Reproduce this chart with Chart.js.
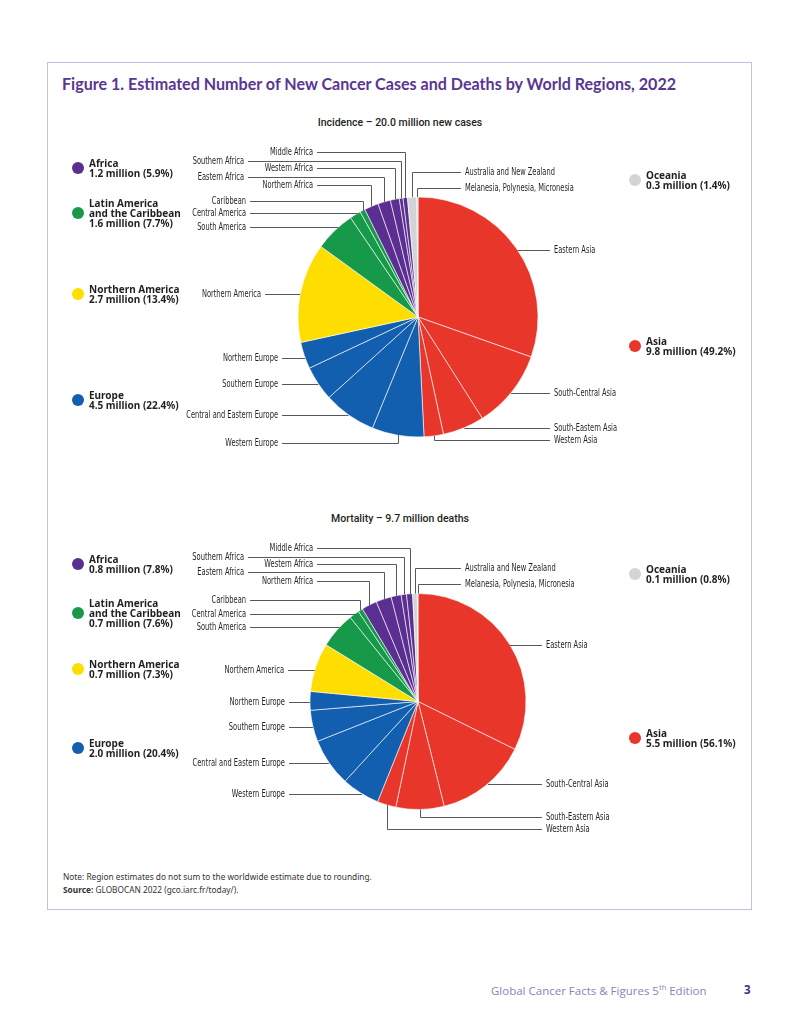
<!DOCTYPE html>
<html>
<head>
<meta charset="utf-8">
<title>Figure 1</title>
<script src="https://cdn.jsdelivr.net/npm/chart.js@4.4.1/dist/chart.umd.min.js"></script>
<style>
  body { margin: 0; background: #fff; width: 800px; height: 1035px; position: relative; font-family: "Noto Sans", sans-serif; color: #231f20; }
  .frame { position: absolute; left: 47px; top: 62px; width: 705px; height: 848px; border: 1.5px solid #c4bfdd; box-sizing: border-box; }
  .title { position: absolute; left: 62px; top: 74px; font-family: Lato, "Open Sans", sans-serif; font-weight: 700; font-size: 16.1px; color: #5a3592; white-space: nowrap; }
  .sub { position: absolute; left: 0; width: 800px; text-align: center; font-family: Roboto, sans-serif; font-weight: 500; font-size: 10.5px; line-height: 12px; }
  .pie { position: absolute; left: 48px; }
  .leg { position: absolute; font-weight: 700; font-size: 10px; line-height: 10.4px; white-space: pre; }
  .dot { position: absolute; width: 12px; height: 12px; border-radius: 50%; }
  .note { position: absolute; left: 63px; top: 870px; font-size: 8.3px; line-height: 13px; color: #333; }
  .foot { position: absolute; top: 982px; font-family: "Open Sans", sans-serif; font-size: 11.5px; color: #8b82b9; white-space: nowrap; }
</style>
</head>
<body>
<div class="frame"></div>
<div class="title">Figure 1. Estimated Number of New Cancer Cases and Deaths by World Regions, 2022</div>
<div class="sub" style="top:117px">Incidence – 20.0 million new cases</div>
<div class="sub" style="top:513px">Mortality – 9.7 million deaths</div>
<canvas id="incidence" class="pie" style="top:100px" width="702" height="380"></canvas>
<canvas id="mortality" class="pie" style="top:490px" width="702" height="380"></canvas>
<div id="legends"></div>
<div class="note">Note: Region estimates do not sum to the worldwide estimate due to rounding.<br><b>Source:</b> GLOBOCAN 2022 (gco.iarc.fr/today/).</div>
<div class="foot" style="left:491px">Global Cancer Facts &amp; Figures 5<sup style="font-size:7.5px">th</sup> Edition</div>
<div class="foot" style="left:744px;font-weight:700;color:#4b2c87">3</div>

<script>
// sub-regions, clockwise from 12 o'clock
const regions = ["Eastern Asia", "South-Central Asia", "South-Eastern Asia", "Western Asia",
  "Western Europe", "Central and Eastern Europe", "Southern Europe", "Northern Europe",
  "Northern America",
  "South America", "Central America", "Caribbean",
  "Northern Africa", "Eastern Africa", "Western Africa", "Southern Africa", "Middle Africa",
  "Australia and New Zealand", "Melanesia, Polynesia, Micronesia"];
const regionGroup = ["Asia", "Asia", "Asia", "Asia",
  "Europe", "Europe", "Europe", "Europe",
  "Northern America",
  "Latin America", "Latin America", "Latin America",
  "Africa", "Africa", "Africa", "Africa", "Africa",
  "Oceania", "Oceania"];

// share of world total (%)
const incidencePct = [30.4, 10.6, 5.6, 2.6, 7.0, 7.1, 4.7, 3.6, 13.4, 5.5, 1.5, 0.7, 1.9, 1.7, 1.2, 0.5, 0.6, 1.25, 0.15];
const mortalityPct = [32.3, 13.8, 7.2, 2.8, 5.7, 7.2, 4.7, 2.8, 7.3, 5.4, 1.5, 0.7, 2.3, 2.3, 1.5, 0.8, 0.9, 0.7, 0.1];

// world regions for the legends
const groups = ["Africa", "Latin America", "Northern America", "Europe", "Oceania", "Asia"];
const groupNames = ["Africa", "Latin America\nand the Caribbean", "Northern America", "Europe", "Oceania", "Asia"];
const incidenceMillions = ["1.2", "1.6", "2.7", "4.5", "0.3", "9.8"];
const incidenceGroupPct = ["5.9", "7.7", "13.4", "22.4", "1.4", "49.2"];
const mortalityMillions = ["0.8", "0.7", "0.7", "2.0", "0.1", "5.5"];
const mortalityGroupPct = ["7.8", "7.6", "7.3", "20.4", "0.8", "56.1"];

const groupColors = {
  "Asia": "#e8362a",
  "Europe": "#115fae",
  "Northern America": "#fedd00",
  "Latin America": "#17994a",
  "Africa": "#5b2e91",
  "Oceania": "#d3d4d6"
};

// label placement, px from pie centre [x, y] (negative x = text on the left)
const incidenceLabelPos = [[136, -67], [136, 75.7], [136, 110.7], [136, 123],
  [-140, 126], [-140, 97.7], [-140, 66.7], [-140, 40.7],
  [-157, -23],
  [-172, -90], [-172, -103.7], [-172, -116.3],
  [-105, -132.3], [-174, -140.3], [-105, -148.7], [-174, -156.3], [-105, -164.7],
  [47, -144.7], [47, -129]];
const mortalityLabelPos = [[128, -56.7], [128, 82.3], [128, 115], [128, 127.6],
  [-133, 92.3], [-133, 61], [-133, 25.3], [-133, 0.6],
  [-134, -31.7],
  [-172, -74.4], [-172, -88], [-172, -101.4],
  [-105, -121], [-174, -129.4], [-105, -137.4], [-174, -145], [-105, -153.4],
  [47, -133.4], [47, -117.7]];

// legend text block: [left, top]
const incidenceLegendPos = [[89, 158], [89, 197.5], [89, 283.5], [89, 390], [646, 170], [646, 335.5]];
const mortalityLegendPos = [[89, 554], [89, 597.5], [89, 659], [89, 737.5], [646, 564], [646, 728]];

const leaderLabels = {
  id: "leaderLabels",
  afterDatasetsDraw(chart, args, opts) {
    const ctx = chart.ctx;
    const arcs = chart.getDatasetMeta(0).data;
    const names = chart.data.labels;
    ctx.save();
    ctx.font = '10px "Liberation Sans Narrow", "DejaVu Sans Condensed", Roboto, sans-serif';
    const squeeze = opts.fitWidth / ctx.measureText("Central and Eastern Europe").width;
    ctx.strokeStyle = "#58595b";
    ctx.lineWidth = 1;
    ctx.fillStyle = "#231f20";
    ctx.textBaseline = "middle";
    arcs.forEach((arc, i) => {
      const [dx, dy] = opts.pos[i];
      const cx = arc.x, cy = arc.y, r = arc.outerRadius;
      const left = dx < 0;
      const ly = Math.round(cy + dy) + 0.5;
      const tx = cx + dx;
      let px, py, elbow = true;
      if (Math.abs(dy) < r) {
        const off = Math.sqrt(r * r - dy * dy);
        let a = Math.atan2(dy, left ? -off : off);
        if (a < -Math.PI / 2) a += 2 * Math.PI;
        if (a >= arc.startAngle && a <= arc.endAngle) {
          px = cx + (left ? -off : off);
          py = ly;
          elbow = false;
        }
      }
      if (elbow) {
        const mid = (arc.startAngle + arc.endAngle) / 2;
        px = Math.round(cx + r * Math.cos(mid)) + 0.5;
        py = cy + r * Math.sin(mid);
      }
      ctx.beginPath();
      ctx.moveTo(px, py);
      if (elbow) ctx.lineTo(px, ly);
      ctx.lineTo(left ? tx + 4 : tx - 4, ly);
      ctx.stroke();

      ctx.save();
      ctx.translate(tx, ly);
      ctx.scale(squeeze, 1);
      ctx.textAlign = left ? "right" : "left";
      ctx.fillText(names[i], 0, 0);
      ctx.restore();
    });
    ctx.restore();
  }
};

function makePie(id, values, radius, padTop, labelPos, fitWidth) {
  return new Chart(document.getElementById(id), {
    type: "pie",
    data: {
      labels: regions,
      datasets: [{
        data: values,
        backgroundColor: regionGroup.map(g => groupColors[g]),
        borderColor: "#ffffff",
        borderWidth: 0.6
      }]
    },
    options: {
      responsive: false,
      animation: false,
      events: [],
      radius: radius,
      layout: { padding: { left: 38, top: padTop, right: 0, bottom: 0 } },
      plugins: {
        legend: { display: false },
        tooltip: { enabled: false },
        leaderLabels: { pos: labelPos, fitWidth: fitWidth }
      }
    },
    plugins: [leaderLabels]
  });
}

function makeLegend(millions, pcts, pos) {
  const box = document.getElementById("legends");
  groups.forEach((g, i) => {
    const text = groupNames[i] + "\n" + millions[i] + " million (" + pcts[i] + "%)";
    const lines = text.split("\n").length;
    const t = document.createElement("div");
    t.className = "leg";
    t.style.left = pos[i][0] + "px";
    t.style.top = pos[i][1] + "px";
    t.textContent = text;
    box.appendChild(t);
    const d = document.createElement("div");
    d.className = "dot";
    d.style.background = groupColors[g];
    d.style.left = (pos[i][0] - 17) + "px";
    d.style.top = (pos[i][1] + lines * 10.4 / 2 - 6) + "px";
    box.appendChild(d);
  });
}

makePie("incidence", incidencePct, 120, 54, incidenceLabelPos, 91.7);
makePie("mortality", mortalityPct, 108, 43, mortalityLabelPos, 92.5);
makeLegend(incidenceMillions, incidenceGroupPct, incidenceLegendPos);
makeLegend(mortalityMillions, mortalityGroupPct, mortalityLegendPos);
</script>
</body>
</html>
